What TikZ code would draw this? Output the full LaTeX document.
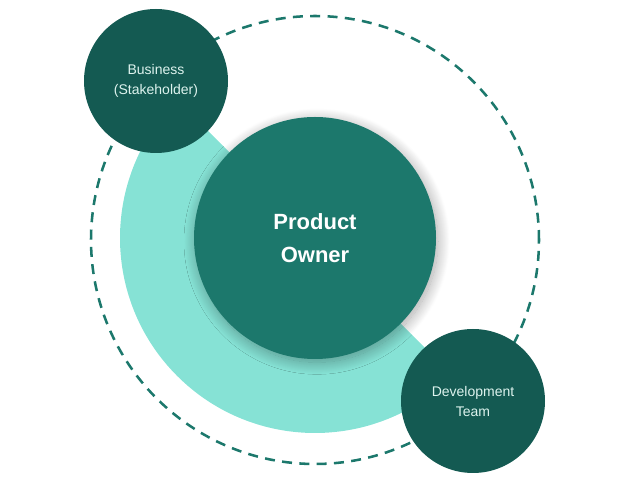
\documentclass[tikz,border=0pt]{standalone}
\usepackage{fontspec}
\setmainfont{Liberation Sans}
\usepackage{tikz}
\usetikzlibrary{shapes,shadows.blur}
\usepackage{xcolor}
\definecolor{darkteal}{HTML}{145A52}
\definecolor{midteal}{HTML}{1C786C}
\definecolor{mint}{HTML}{86E2D5}
\definecolor{paletxt}{HTML}{DDF3EE}

\begin{document}
\begin{tikzpicture}[x=0.75pt,y=0.75pt,
    role/.style={circle,fill=darkteal,minimum size=108pt,inner sep=0pt,
      text=paletxt,font=\fontsize{10.5}{15}\selectfont,align=center},
    owner/.style={circle,fill=midteal,minimum size=181.5pt,inner sep=0pt,
      text=white,font=\bfseries\fontsize{16.5}{25}\selectfont,align=center,
      blur shadow={shadow xshift=1.5pt,shadow yshift=-2.5pt,shadow blur radius=9pt,
        shadow blur steps=25,shadow opacity=35}},
    orbit/.style={circle,draw=midteal,line width=1.9pt,dash pattern=on 7.5pt off 5.5pt,
      minimum size=336pt,inner sep=0pt}]
      \useasboundingbox (0,0) rectangle (636,482);
      % dashed orbit and the mint half disk
      \node[orbit] (ring) at (315,242) {};
      \fill[mint] (315,244) ++(135:195) arc[start angle=135,end angle=315,radius=195] -- cycle;
      % the three roles
      \node[owner] (po) at (315,244) {Product\\Owner};
      \node[role] (biz) at (156,401) {Business\\(Stakeholder)};
      \node[role] (dev) at (473,81) {Development\\Team};
    \end{tikzpicture}
\end{document}
